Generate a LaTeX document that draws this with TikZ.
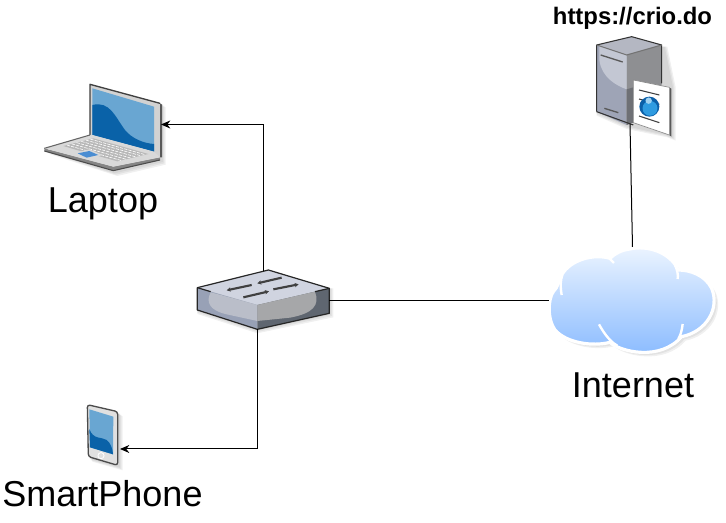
\documentclass[tikz,border=0pt]{standalone}
\usepackage{fontspec}
\setmainfont{Liberation Sans}
\usetikzlibrary{arrows.meta,calc}
\definecolor{scrlight}{HTML}{69A6D2}
\definecolor{scrdark}{HTML}{0A62A8}
\definecolor{swtop}{HTML}{D0D4E0}
\definecolor{swleft}{HTML}{98A1B6}
\definecolor{swright}{HTML}{5F6670}
\definecolor{swblobl}{HTML}{BABEC9}
\definecolor{swblobr}{HTML}{A6A7A9}
\definecolor{srvtop}{HTML}{B4B7C2}
\definecolor{srvleft}{HTML}{C3C7D3}
\definecolor{srvlow}{HTML}{9EA4B6}
\definecolor{srvright}{HTML}{8E8F92}
\definecolor{srvdark}{HTML}{6E7075}
\definecolor{cloudtop}{HTML}{EDF5FF}
\definecolor{cloudbot}{HTML}{85B8FF}
\definecolor{globeout}{HTML}{0B5FA8}
\definecolor{globein}{HTML}{2F9BE0}
\tikzset{
  x=.75pt,y=-.75pt,
  zoomed/.style={x=.25pt,y=-.25pt},
  iconbox/.style={inner sep=0pt,outer sep=0pt,minimum width=#1},
  label/.style={inner sep=0pt,font=\fontsize{27pt}{30pt}\selectfont,text=black},
  link/.style={draw=black,line width=.75pt},
  arrowed/.style={link,-{Stealth[length=7pt,width=6pt]}},
  edge/.style={draw=#1,line width=.8pt,line join=round},
  softshadow/.style={fill=gray,opacity=.12,draw=none},
}
\begin{document}
\begin{tikzpicture}
\useasboundingbox (0,0) rectangle (726,523);
% ---------- laptop
\begin{scope}[shift={(30,70)},zoomed]
  \foreach \d in {4,8,12}{
    \fill[softshadow] (46+\d,240+\d) -- (180,195) -- (180,43) -- (395+\d,100+\d) -- (395+\d,272+\d) -- (250+\d,306+\d) -- cycle;}
  \fill[gray!35!white] (180,43) -- (390,100) -- (390,262) -- (180,195) -- cycle;
  \draw[edge=black!75,line width=1pt] (180,195) -- (180,43) -- (390,100);
  \fill[black!65] (390,100) -- (396,104) -- (396,262) -- (390,262) -- cycle;
  \fill[scrlight] (187,55) -- (372,110) -- (372,245) -- (187,195) -- cycle;
  \fill[scrdark] (187,105) .. controls (240,92) and (255,140) .. (285,180) .. controls (305,205) and (340,220) .. (372,222) -- (372,245) -- (187,195) -- cycle;
  \fill[black!48] (43,235) -- (43,243) -- (250,302) -- (390,270) -- (390,262) -- (250,290) -- cycle;
  \fill[black!15] (43,235) -- (180,195) -- (187,195) -- (372,245) -- (390,262) -- (250,290) -- cycle;
  \draw[edge=black!70] (43,243) -- (250,302) -- (390,270);
  \draw[edge=black!60] (43,235) -- (180,195);
  \fill[black!28] (100,228) -- (190,205) -- (355,252) -- (262,274) -- (205,258) -- (140,240) -- cycle;
  \foreach \t in {.12,.28,.44,.60,.76,.9}{
    \draw[white,line width=.45pt,dash pattern=on 2.5pt off .8pt]
      ($(100,228)!\t!(190,205)$) -- ($(262,274)!\t!(355,252)$);}
  \fill[black!15] (130,250) -- (178,238) -- (218,255) -- (172,268) -- cycle;
  \fill[cyan!55!blue!75!white] (143,250) -- (178,243) -- (205,255) -- (170,263) -- cycle;
\end{scope}
\node[iconbox=87pt,minimum height=70.5pt] (laptop) at (102,124) {};
% ---------- switch
\begin{scope}[shift={(180,255)},zoomed]
  \foreach \d in {4,8,12}{
    \fill[softshadow] (52,165+\d) -- (232,223+\d) -- (448+\d,175+\d) -- (448+\d,100) -- (52,100) -- cycle;}
  \fill[swtop] (52,98) -- (265,45) -- (448,100) -- (232,150) -- cycle;
  \fill[swleft] (52,98) -- (232,150) -- (232,223) -- (52,165) -- cycle;
  \fill[swright] (232,150) -- (448,100) -- (448,175) -- (232,223) -- cycle;
  \fill[swblobl] (232,150) -- (130,122) -- (92,112) .. controls (78,140) and (85,165) .. (140,178) -- (232,198) -- cycle;
  \fill[swblobr] (232,150) -- (405,110) .. controls (420,150) and (400,175) .. (330,188) -- (232,198) -- cycle;
  \draw[edge=black!85,line width=.9pt] (52,165) -- (52,98) -- (265,45) -- (448,100) -- (448,175) -- (232,223) -- cycle;
  \draw[edge=black!85,line width=.9pt] (52,98) -- (92,110);
  \draw[edge=black!85,line width=.9pt] (405,110) -- (448,100);
  \draw[black!75,line width=1.6pt,-{Stealth[length=3pt,width=3.2pt]}] (215,90) -- (140,106);
  \draw[black!75,line width=1.6pt,-{Stealth[length=3pt,width=3.2pt]}] (305,68) -- (232,85);
  \draw[black!75,line width=1.6pt,-{Stealth[length=3pt,width=3.2pt]}] (190,127) -- (267,109);
  \draw[black!75,line width=1.6pt,-{Stealth[length=3pt,width=3.2pt]}] (280,103) -- (356,88);
\end{scope}
\node[iconbox=99pt,minimum height=44.25pt] (switch) at (263,299.5) {};
% ---------- server
\begin{scope}[shift={(570,0)},zoomed]
  \foreach \d in {4,8,12}{
    \fill[softshadow] (80,335+\d) -- (170,375+\d) -- (280+\d,400+\d) -- (305+\d,410+\d) -- (305+\d,262) -- (280+\d,140) -- (80,140) -- cycle;}
  \fill[srvtop] (80,135) -- (185,110) -- (275,135) -- (170,165) -- cycle;
  \fill[srvlow] (80,135) -- (170,165) -- (170,375) -- (80,335) -- cycle;
  \fill[srvright] (170,165) -- (275,135) -- (275,300) -- (170,375) -- cycle;
  \fill[srvleft] (170,268) .. controls (120,250) and (85,215) .. (88,165) -- (88,138) -- (170,165) -- cycle;
  \fill[srvdark] (170,268) -- (190,262) -- (190,368) -- (170,375) -- cycle;
  \draw[edge=black!80] (80,335) -- (80,135) -- (185,110) -- (275,135) -- (275,250);
  \draw[edge=black!55] (80,135) -- (170,165) -- (275,135);
  \draw[edge=black!80] (80,335) -- (190,375);
  \draw[black!65,line width=1pt] (92,165) -- (158,186);
  \draw[black!65,line width=1pt] (103,325) -- (145,338);
  \fill[black!65] (298,262) -- (304,266) -- (304,410) -- (298,405) -- cycle;
  \fill[white,draw=black!45,line width=.5pt] (190,240) -- (298,262) -- (298,405) -- (190,368) -- cycle;
  \draw[black!75,line width=.8pt] (207,270) -- (268,285);
  \draw[black!75,line width=.8pt] (207,297) -- (225,302);
  \draw[black!75,line width=.8pt] (250,308) -- (268,313);
  \draw[black!75,line width=.8pt] (207,348) -- (268,368);
  \fill[globeout] (238,320) circle (7.5pt);
  \fill[globein] (240,325) circle (5.6pt);
  \fill[globein!45!white] (236,302) circle (2.4pt);
\end{scope}
\node[iconbox=55pt,minimum height=74pt] (server) at (633,85) {};
% ---------- cloud
\begin{scope}[shift={(530,235)},zoomed]
  \foreach \d in {4,8,12}{
    \fill[softshadow,shift={(\d,\d)}] (70,170) .. controls (55,190) and (50,250) .. (75,285) .. controls (110,325) and (190,335) .. (240,322) .. controls (270,350) and (390,380) .. (455,305) .. controls (530,290) and (570,220) .. (545,160) .. controls (525,120) and (480,105) .. (445,105) .. controls (420,50) and (350,30) .. (300,42) .. controls (275,45) and (255,55) .. (240,70) .. controls (190,55) and (120,75) .. (95,120) .. controls (85,140) and (85,155) .. (70,170) -- cycle;}
  \path[top color=cloudtop,bottom color=cloudbot,draw=white,line width=2.4pt,line join=round]
    (70,170) .. controls (55,190) and (50,250) .. (75,285) .. controls (110,325) and (190,335) .. (240,322) .. controls (270,350) and (390,380) .. (455,305) .. controls (530,290) and (570,220) .. (545,160) .. controls (525,120) and (480,105) .. (445,105) .. controls (420,50) and (350,30) .. (300,42) .. controls (275,45) and (255,55) .. (240,70) .. controls (190,55) and (120,75) .. (95,120) .. controls (85,140) and (85,155) .. (70,170) -- cycle;
  \draw[white,line width=1.8pt] (95,180) .. controls (90,150) and (92,135) .. (97,120);
  \draw[white,line width=1.8pt] (240,72) -- (252,84);
  \draw[white,line width=1.8pt] (435,90) .. controls (442,105) and (445,120) .. (443,132);
  \draw[white,line width=1.8pt] (207,268) .. controls (222,295) and (240,320) .. (262,332);
  \draw[white,line width=1.8pt] (458,267) .. controls (456,285) and (452,300) .. (445,312);
\end{scope}
\node[iconbox=126pt,minimum height=78pt] (cloud) at (633,300) {};
% ---------- phone
\begin{scope}[shift={(70,395)},zoomed]
  \foreach \d in {4,8,12}{
    \fill[softshadow] (55+\d,188+\d) -- (146+\d,214+\d) -- (146+\d,52+\d) -- (100,40) -- (55,40) -- cycle;}
  \fill[black!12,draw=black!70,line width=1pt,rounded corners=2pt] (52,29) -- (143,50) -- (143,211) -- (55,185) -- cycle;
  \fill[scrlight] (58,43) -- (130,65) -- (129,178) -- (60,157) -- cycle;
  \fill[scrdark] (58,102) .. controls (70,135) and (95,125) .. (110,135) .. controls (122,145) and (128,160) .. (129,178) -- (60,157) -- cycle;
  \draw[white,line width=.6pt,fill=black!12] (93,182) circle (2.3pt);
\end{scope}
\node[iconbox=23.25pt,minimum height=46.5pt] (phone) at (102.5,435) {};
% ---------- connector ports
\coordinate (laptopPort) at (161,124.5);
\coordinate (switchTop) at (263,271);
\coordinate (switchBottom) at (257.5,329);
\coordinate (phonePort) at (120,449);
\coordinate (switchRight) at (329,300.5);
\coordinate (cloudLeft) at (549,300.5);
\coordinate (cloudTop) at (632.5,247);
\coordinate (serverBottom) at (630,124);
\draw[arrowed] (switchTop) |- (laptopPort);
\draw[arrowed] (switchBottom) |- (phonePort);
\draw[link] (switchRight) -- (cloudLeft);
\draw[link] (cloudTop) -- (serverBottom);
% ---------- labels
\node[label] (laptopLabel) at (103,204) {Laptop};
\node[label] (cloudLabel) at (633,385) {Internet};
\node[label] (phoneLabel) at (102.5,494) {SmartPhone};
\node[inner sep=0pt,font=\fontsize{17.9pt}{20pt}\selectfont\bfseries] (serverLabel) at (632.5,18.5) {https://crio.do};
\end{tikzpicture}
\end{document}
